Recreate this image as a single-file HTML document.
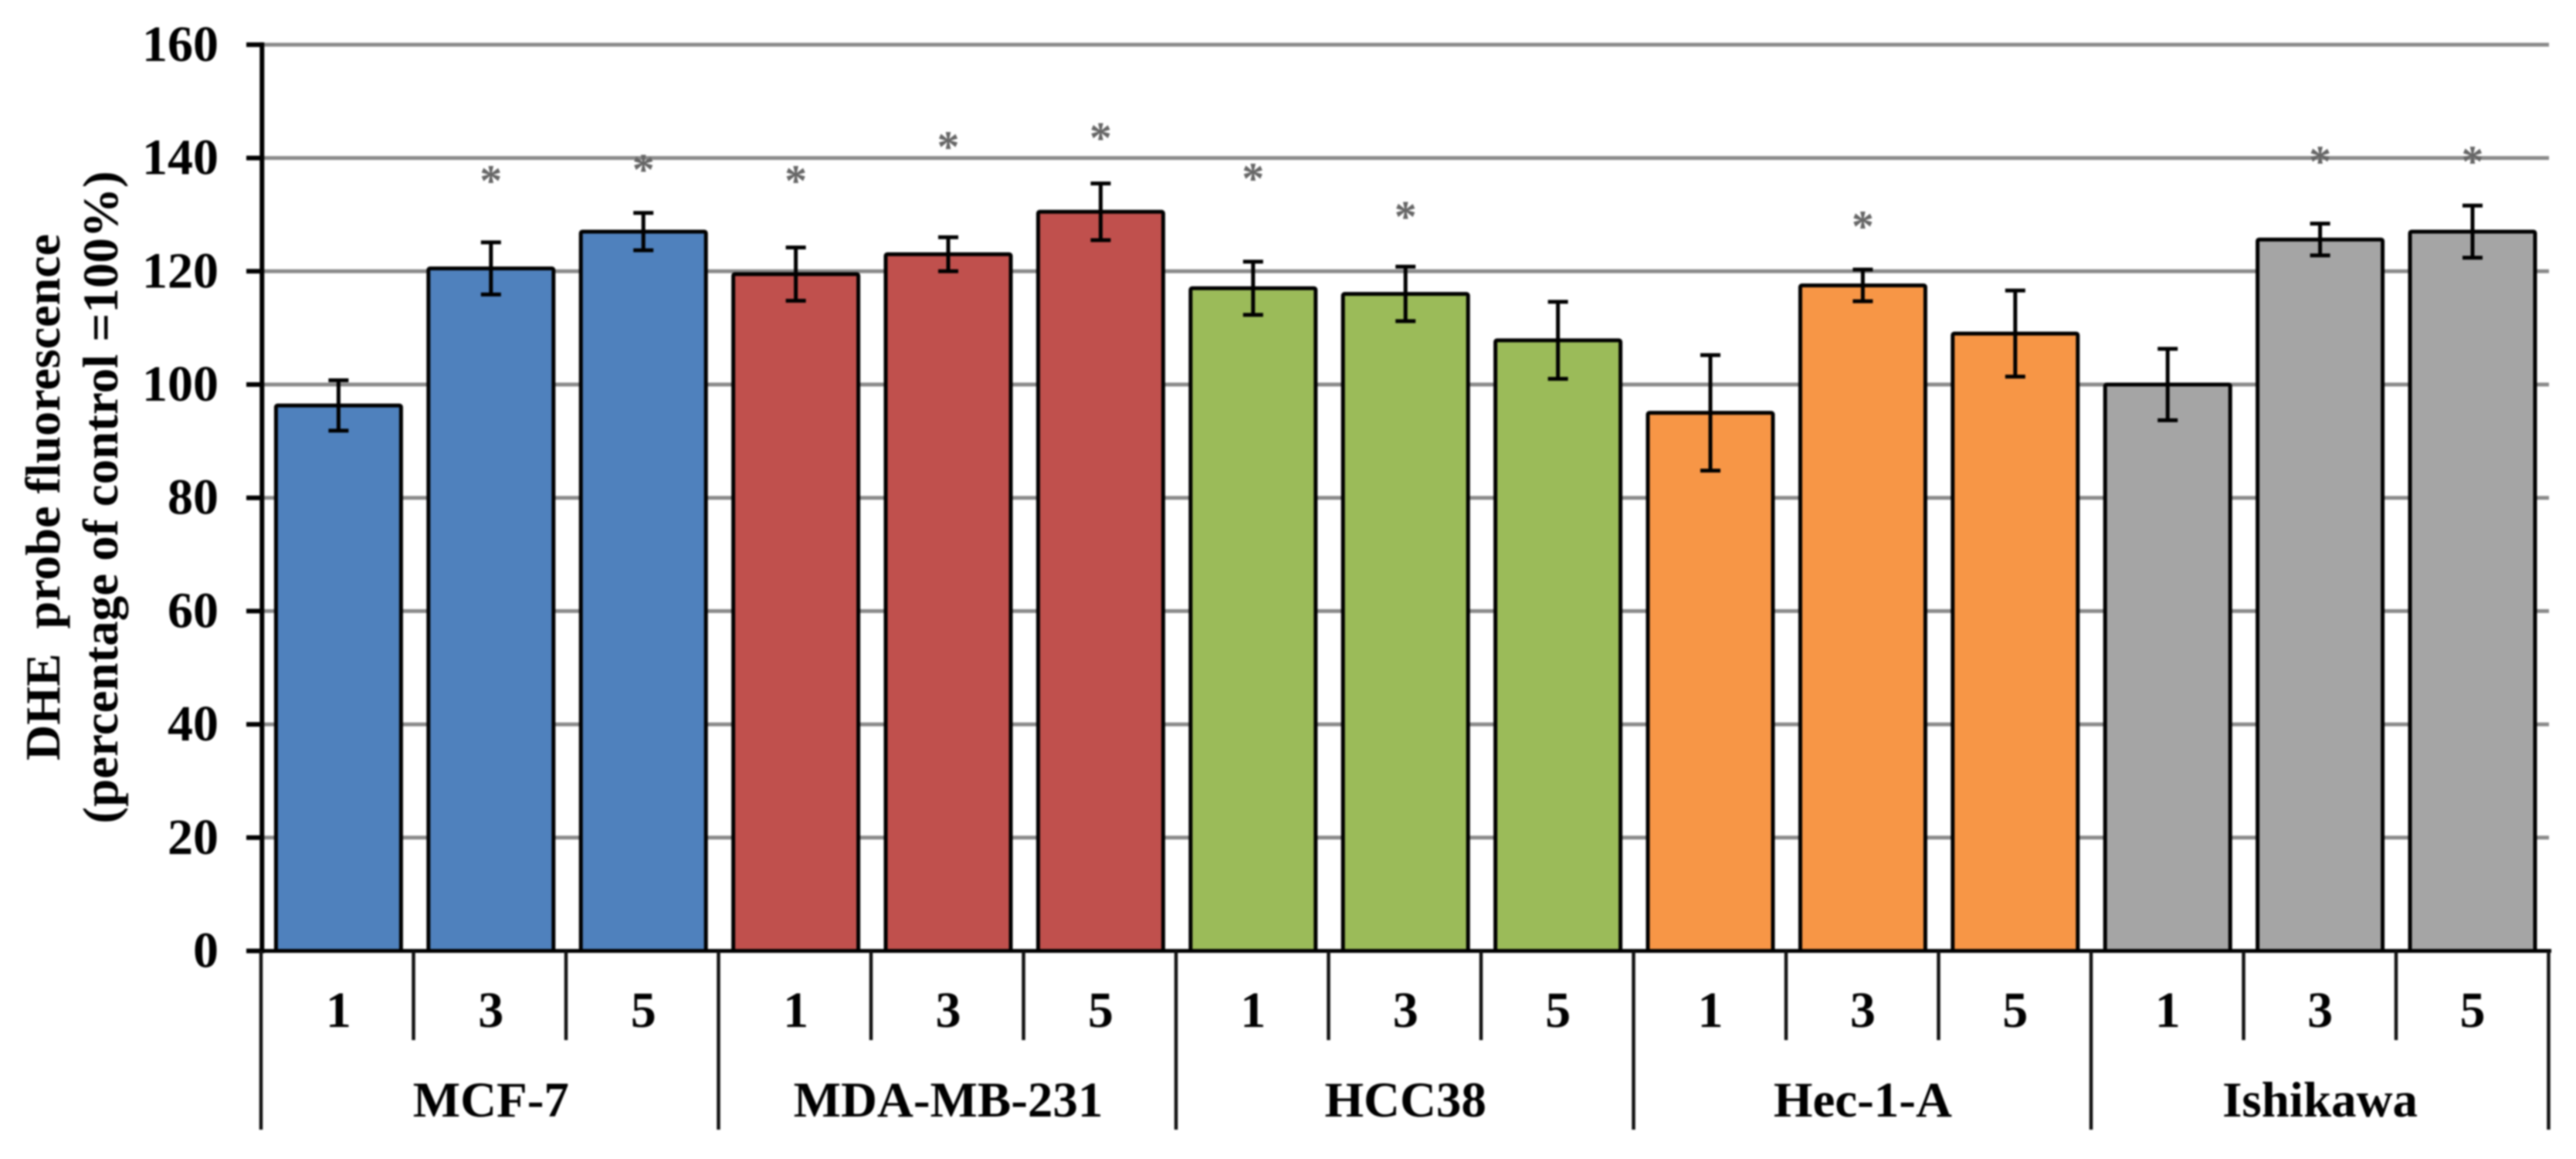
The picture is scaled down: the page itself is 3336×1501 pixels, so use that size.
<!DOCTYPE html>
<html>
<head>
<meta charset="utf-8">
<title>DHE probe fluorescence chart</title>
<style>
html,body{margin:0;padding:0;background:#fff;width:3336px;height:1501px;overflow:hidden}
svg{display:block;filter:blur(1px)}
text{font-family:"Liberation Serif",serif;font-weight:bold;fill:#000}
</style>
</head>
<body>
<svg id="chart" xmlns="http://www.w3.org/2000/svg" width="3336" height="1501" viewBox="0 0 3336 1501">
<text transform="translate(77,644) rotate(-90)" text-anchor="middle" font-size="64" xml:space="preserve">DHE  probe fluorescence</text>
<text transform="translate(152,644) rotate(-90)" text-anchor="middle" font-size="65">(percentage of control =100%)</text>
</svg>
<script>
const doses = ['1','3','5'];
const groups = ['MCF-7','MDA-MB-231','HCC38','Hec-1-A','Ishikawa'];
const groupColors = ['#4F81BD','#C0504D','#9BBB59','#F79646','#A5A5A5'];
const yTicks = [0,20,40,60,80,100,120,140,160];
const means = [96.3,120.5,127, 119.5,123,130.5, 117,116,107.8, 95,117.5,109, 100,125.6,127];
const errors = [4.45,4.6,3.3, 4.7,3,5, 4.7,4.8,6.8, 10.2,2.8,7.6, 6.3,2.8,4.6];
const stars = [null,137,139, 137,143,144.6, 137.4,130.7,null, null,129,null, null,140.4,140.4];

const svg = document.getElementById('chart');
const NS = 'http://www.w3.org/2000/svg';
const y = v => 1231.5 - v * 7.335;
const xc = i => 438.4 + 197.4 * i;
const xb = i => 338 + 197.5 * i;
const barW = 162;
const capW = 13;

function mk(tag, a, parent){
  const e = document.createElementNS(NS, tag);
  for (const k in a) e.setAttribute(k, a[k]);
  (parent || svg).appendChild(e);
  return e;
}

yTicks.forEach(t => {
  const g = mk('line',{x1:339,x2:3301,y1:y(t),y2:y(t),stroke:'#8a8a8a','stroke-width':5});
  
  
  const m = mk('line',{x1:319,x2:340,y1:y(t),y2:y(t),stroke:'#000','stroke-width':6});
  
  
  const l = mk('text',{x:283,y:y(t)+21,'text-anchor':'end','font-size':66});
  l.textContent = t;
  
  
});

means.forEach((v,i) => {
  const col = groupColors[Math.floor(i/3)];
  const r = mk('rect',{x:xc(i)-barW/2,y:y(v),width:barW,height:y(0)-y(v),fill:col,stroke:'#000','stroke-width':5,rx:2});
  
  
  const e = errors[i];
  const p = mk('path',{d:`M${xc(i)} ${y(v+e)}V${y(v-e)}M${xc(i)-capW} ${y(v+e)}H${xc(i)+capW}M${xc(i)-capW} ${y(v-e)}H${xc(i)+capW}`,fill:'none',stroke:'#000','stroke-width':5});
  
  
  if (stars[i] !== null) {
    const s = mk('text',{x:xc(i),y:y(stars[i])+27,'text-anchor':'middle','font-size':58});
    s.textContent = '*';
    s.style.fill = '#666';
    
    
  }
  const dl = mk('text',{x:xc(i),y:1330,'text-anchor':'middle','font-size':66});
  dl.textContent = doses[i%3];
  
  
});

const yAxis = mk('line',{x1:339.3,x2:339.3,y1:y(160)-3,y2:y(0)+3,stroke:'#000','stroke-width':6});


const xAxis = mk('line',{x1:319,x2:3304,y1:y(0),y2:y(0),stroke:'#000','stroke-width':5});



for (let i = 0; i <= means.length; i++) {
  const isGroupEdge = i % 3 === 0;
  const t = mk('line',{x1:xb(i),x2:xb(i),y1:y(0),y2:isGroupEdge?1463:1347,stroke:'#111','stroke-width':4.5});
  
  
}

groups.forEach((g,i) => {
  const l = mk('text',{x:xc(i*3+1),y:1446,'text-anchor':'middle','font-size':65});
  l.textContent = g;
  
  
});
</script>
</body>
</html>
